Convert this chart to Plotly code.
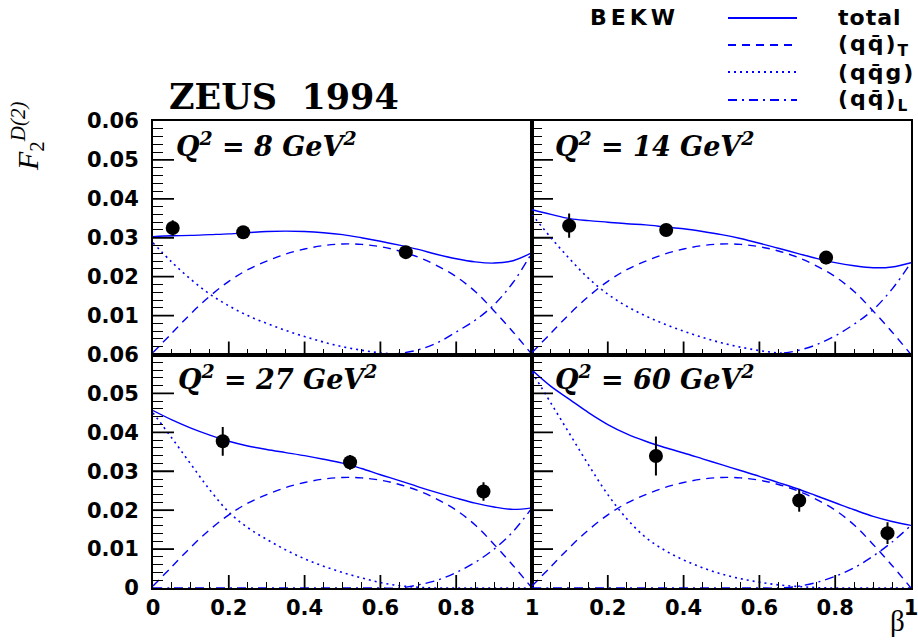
import plotly.graph_objects as go
from plotly.subplots import make_subplots

# ---------------- data ----------------
beta_grid = [0.00, 0.05, 0.10, 0.15, 0.20, 0.25, 0.30, 0.35, 0.40, 0.45, 0.50,
             0.55, 0.60, 0.65, 0.70, 0.75, 0.80, 0.85, 0.90, 0.95, 1.00]

# (q qbar)_T contribution (same in all panels)
qqT = [0.0005, 0.0055, 0.0105, 0.0150, 0.0188, 0.0218, 0.0240, 0.0258, 0.0271, 0.0280, 0.0284,
       0.0283, 0.0277, 0.0266, 0.0250, 0.0228, 0.0200, 0.0162, 0.0112, 0.0058, 0.0000]

qqg_8 = [0.0287, 0.0237, 0.0193, 0.0155, 0.0125, 0.0100, 0.0080, 0.0062, 0.0046, 0.0032, 0.0020,
         0.0011, 0.0004, 0.0001, 0, 0, 0, 0, 0, 0, 0]
qqg_14 = [0.0360, 0.0300, 0.0245, 0.0195, 0.0155, 0.0124, 0.0099, 0.0078, 0.0060, 0.0044, 0.0030,
          0.0019, 0.0010, 0.0004, 0.0001, 0, 0, 0, 0, 0, 0]
qqg_27 = [0.0450, 0.0385, 0.0318, 0.0252, 0.0195, 0.0155, 0.0125, 0.0098, 0.0075, 0.0056, 0.0040,
          0.0026, 0.0014, 0.0006, 0.0002, 0, 0, 0, 0, 0, 0]
qqg_60 = [0.0555, 0.0475, 0.0395, 0.0315, 0.0240, 0.0178, 0.0130, 0.0097, 0.0072, 0.0052, 0.0036,
          0.0024, 0.0015, 0.0008, 0.0004, 0.0001, 0, 0, 0, 0, 0]

qqL_8 = [0, 0, 0, 0, 0, 0, 0, 0, 0, 0, 0, 0, 0.0000, 0.0003, 0.0012, 0.0030, 0.0058, 0.0088, 0.0128, 0.0185, 0.0262]
qqL_14 = [0, 0, 0, 0, 0, 0, 0, 0, 0, 0, 0, 0, 0.0000, 0.0002, 0.0010, 0.0025, 0.0048, 0.0078, 0.0115, 0.0168, 0.0236]
qqL_27 = [0, 0, 0, 0, 0, 0, 0, 0, 0, 0, 0, 0, 0.0000, 0.0000, 0.0008, 0.0020, 0.0040, 0.0066, 0.0100, 0.0145, 0.0206]
qqL_60 = [0, 0, 0, 0, 0, 0, 0, 0, 0, 0, 0, 0, 0.0000, 0.0000, 0.0004, 0.0014, 0.0030, 0.0052, 0.0082, 0.0118, 0.0161]

total_8 = [0.0303, 0.0305, 0.0306, 0.0308, 0.0310, 0.0313, 0.0316, 0.0317, 0.0316, 0.0313, 0.0308,
           0.0300, 0.0291, 0.0281, 0.0270, 0.0257, 0.0246, 0.0238, 0.0235, 0.0241, 0.0262]
total_14 = [0.0372, 0.0360, 0.0349, 0.0344, 0.0340, 0.0336, 0.0333, 0.0328, 0.0323, 0.0316, 0.0308,
            0.0298, 0.0286, 0.0273, 0.0260, 0.0247, 0.0236, 0.0228, 0.0223, 0.0225, 0.0236]
total_27 = [0.0456, 0.0432, 0.0411, 0.0393, 0.0377, 0.0365, 0.0356, 0.0348, 0.0340, 0.0331, 0.0321,
            0.0307, 0.0291, 0.0276, 0.0260, 0.0245, 0.0231, 0.0218, 0.0208, 0.0202, 0.0206]
total_60 = [0.0560, 0.0518, 0.0484, 0.0450, 0.0420, 0.0396, 0.0377, 0.0361, 0.0347, 0.0332, 0.0317,
            0.0302, 0.0287, 0.0271, 0.0255, 0.0237, 0.0219, 0.0201, 0.0184, 0.0171, 0.0161]

# ZEUS 1994 measurements
data_beta_8 = [0.052, 0.238, 0.667]
data_f2_8 = [0.0325, 0.0314, 0.0263]
data_err_8 = [0.0020, 0.0015, 0.0015]
data_beta_14 = [0.098, 0.354, 0.776]
data_f2_14 = [0.0331, 0.0320, 0.0249]
data_err_14 = [0.0031, 0.0016, 0.0017]
data_beta_27 = [0.184, 0.520, 0.872]
data_f2_27 = [0.0377, 0.0323, 0.0248]
data_err_27 = [0.0037, 0.0019, 0.0024]
data_beta_60 = [0.327, 0.705, 0.938]
data_f2_60 = [0.0339, 0.0225, 0.0141]
data_err_60 = [0.0050, 0.0029, 0.0028]

q2_values = [8, 14, 27, 60]

# interior major tick positions
y_major_ticks = [0.01, 0.02, 0.03, 0.04, 0.05]
x_major_ticks = [0.2, 0.4, 0.6, 0.8]

# ---------------- figure ----------------
W, H = 918, 642
L, R, T, B = 153, 7, 121, 54
PANEL_W = (W - L - R) / 2.0
PANEL_H = (H - T - B) / 2.0
X_RANGE = [0, 1]
Y_RANGE = [0, 0.06]
BLUE = "#0000ff"
DASH_T = "8px,6px"
DASH_G = "2px,4px"
DASH_L = "9px,5px,2px,5px"

# tick lengths expressed in axis units
YTICK_LEN = 21 / PANEL_W * (X_RANGE[1] - X_RANGE[0])
XTICK_LEN = 13 / PANEL_H * (Y_RANGE[1] - Y_RANGE[0])

fig = make_subplots(rows=2, cols=2, horizontal_spacing=0, vertical_spacing=0)

panels = [
    (1, 1, qqg_8, qqL_8, total_8, data_beta_8, data_f2_8, data_err_8),
    (1, 2, qqg_14, qqL_14, total_14, data_beta_14, data_f2_14, data_err_14),
    (2, 1, qqg_27, qqL_27, total_27, data_beta_27, data_f2_27, data_err_27),
    (2, 2, qqg_60, qqL_60, total_60, data_beta_60, data_f2_60, data_err_60),
]

for (r, c, g, lq, tot, db, df, de) in panels:
    # long (major) tick marks inside the frame
    tx, ty = [], []
    for v in y_major_ticks:
        tx += [X_RANGE[0], X_RANGE[0] + YTICK_LEN, None]
        ty += [v, v, None]
    for v in x_major_ticks:
        tx += [v, v, None]
        ty += [Y_RANGE[0], Y_RANGE[0] + XTICK_LEN, None]
    fig.add_trace(go.Scatter(x=tx, y=ty, mode="lines", line=dict(color="black", width=1.8),
                             showlegend=False, hoverinfo="skip", connectgaps=False), row=r, col=c)

    fig.add_trace(go.Scatter(x=beta_grid, y=qqT, mode="lines", line=dict(color=BLUE, width=1.4, dash=DASH_T, shape="spline"),
                             showlegend=False, hoverinfo="skip"), row=r, col=c)
    fig.add_trace(go.Scatter(x=beta_grid, y=g, mode="lines", line=dict(color=BLUE, width=1.6, dash=DASH_G, shape="spline"),
                             showlegend=False, hoverinfo="skip"), row=r, col=c)
    fig.add_trace(go.Scatter(x=beta_grid, y=lq, mode="lines", line=dict(color=BLUE, width=1.4, dash=DASH_L, shape="spline"),
                             showlegend=False, hoverinfo="skip"), row=r, col=c)
    fig.add_trace(go.Scatter(x=beta_grid, y=tot, mode="lines", line=dict(color=BLUE, width=1.4, shape="spline"),
                             showlegend=False, hoverinfo="skip"), row=r, col=c)
    fig.add_trace(go.Scatter(x=db, y=df, mode="markers",
                             marker=dict(color="black", size=14, symbol="circle"),
                             error_y=dict(type="data", array=de, color="black", thickness=2, width=0),
                             showlegend=False, hoverinfo="skip"), row=r, col=c)

tickfont = dict(family="DejaVu Sans", size=21, color="black", weight="bold")
for r in (1, 2):
    for c in (1, 2):
        xa = dict(range=X_RANGE, tickmode="linear", tick0=0, dtick=0.2,
                  showline=True, mirror=True, linecolor="black", linewidth=2,
                  ticks="inside", ticklen=13, tickwidth=1, tickcolor="black",
                  showgrid=False, zeroline=False, tickfont=tickfont, automargin=False,
                  ticklabeloverflow="allow",
                  minor=dict(dtick=0.05, ticks="inside", ticklen=6, tickwidth=1, tickcolor="black"))
        ya = dict(range=Y_RANGE, tickmode="linear", tick0=0, dtick=0.01,
                  showline=True, mirror=True, linecolor="black", linewidth=2,
                  ticks="inside", ticklen=20, tickwidth=1, tickcolor="black",
                  showgrid=False, zeroline=False, tickfont=tickfont, automargin=False,
                  ticklabelstandoff=8, ticklabeloverflow="allow",
                  minor=dict(dtick=0.002, ticks="inside", ticklen=10, tickwidth=1, tickcolor="black"))
        if r == 1:
            xa.update(showticklabels=False)
        elif c == 2:
            xa.update(labelalias={"0": " "})
        if c == 2:
            ya.update(showticklabels=False)
        elif r == 1:
            ya.update(labelalias={"0": " "})
        fig.update_xaxes(xa, row=r, col=c)
        fig.update_yaxes(ya, row=r, col=c)


def px2x(px):
    return (px - L) / (W - L - R)


def px2y(py):
    return (H - B - py) / (H - T - B)


annotations = []
label_pos = [(174, 144), (553, 144), (176, 378), (553, 377)]
for q2, (lx, ly) in zip(q2_values, label_pos):
    annotations.append(dict(x=px2x(lx), y=px2y(ly), xref="paper", yref="paper", xanchor="left", yanchor="middle",
                            text="<b><i>Q<sup>2</sup> = %d GeV<sup>2</sup></i></b>" % q2, showarrow=False,
                            font=dict(family="DejaVu Serif", size=27, color="black")))
annotations.append(dict(x=px2x(167), y=px2y(96), xref="paper", yref="paper", xanchor="left", yanchor="middle",
                        text="<b>ZEUS\u00a0\u00a01994</b>", showarrow=False,
                        font=dict(family="DejaVu Serif", size=35, color="black")))
annotations.append(dict(x=px2x(27), y=px2y(136), xref="paper", yref="paper", xanchor="center", yanchor="middle",
                        text="<i>F</i><sub>2</sub><sup><i>D(2)</i></sup>", showarrow=False, textangle=-90,
                        font=dict(family="Liberation Serif", size=30, color="black")))
annotations.append(dict(x=px2x(897), y=px2y(621), xref="paper", yref="paper", xanchor="center", yanchor="middle",
                        text="\u03b2", showarrow=False,
                        font=dict(family="Liberation Serif", size=29, color="black")))
legfont = dict(family="DejaVu Sans", size=22, color="black", weight="bold")
annotations.append(dict(x=px2x(588), y=px2y(18), xref="paper", yref="paper", xanchor="left", yanchor="middle",
                        text='<span style="letter-spacing:4px">BEKW</span>', showarrow=False, font=legfont))
leg_items = [('<span style="letter-spacing:1px">total</span>', None, 18),
             ('<span style="letter-spacing:2px">(qq\u0304)</span><sub>T</sub>', DASH_T, 45),
             ('<span style="letter-spacing:2px">(qq\u0304g)</span>', DASH_G, 72),
             ('<span style="letter-spacing:2px">(qq\u0304)</span><sub>L</sub>', DASH_L, 100)]
shapes = []
for txt, dash, ly in leg_items:
    annotations.append(dict(x=px2x(836), y=px2y(ly), xref="paper", yref="paper", xanchor="left", yanchor="middle",
                            text=txt, showarrow=False, font=legfont))
    ln = dict(color=BLUE, width=2)
    if dash:
        ln["dash"] = dash
    shapes.append(dict(type="line", xref="paper", yref="paper", x0=px2x(728), x1=px2x(797),
                       y0=px2y(ly), y1=px2y(ly), line=ln))

fig.update_layout(width=W, height=H, margin=dict(l=L, r=R, t=T, b=B, autoexpand=False),
                  template="none", paper_bgcolor="white", plot_bgcolor="white",
                  annotations=annotations, shapes=shapes, showlegend=False)

fig.write_html("out.html", config={"displayModeBar": False},
               post_script="document.body.style.margin='0px';")
